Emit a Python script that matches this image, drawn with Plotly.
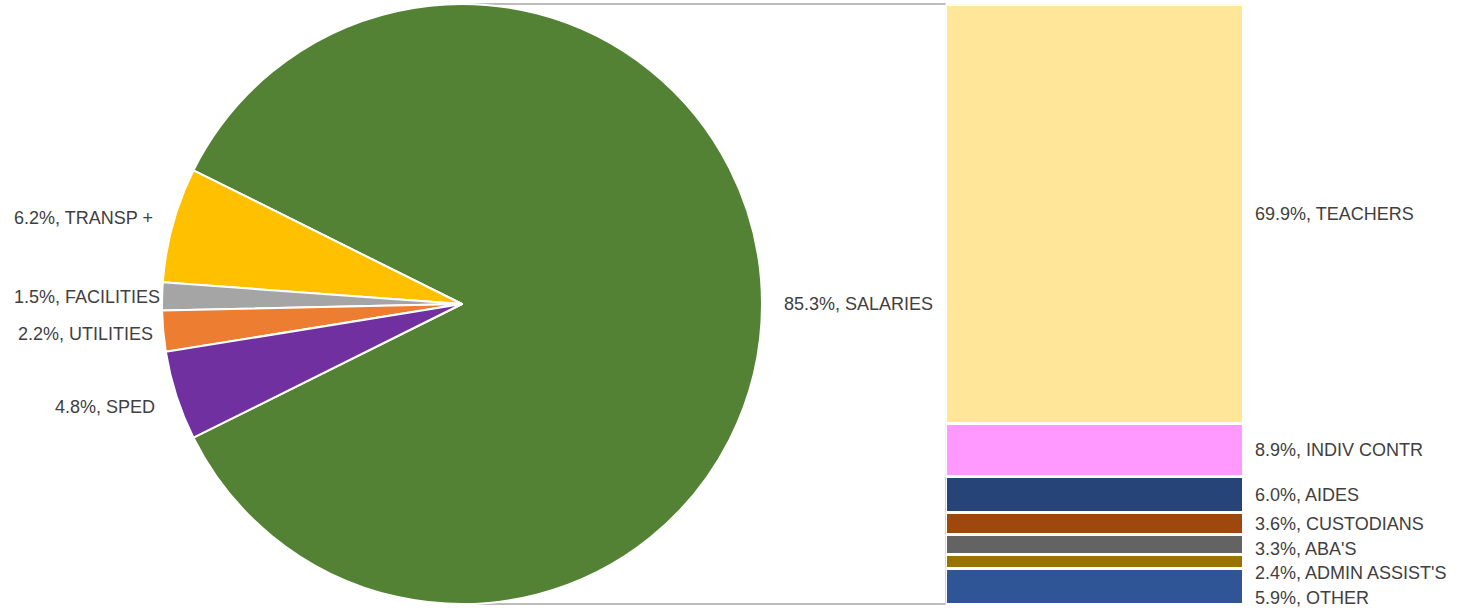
import math
import plotly.graph_objects as go

# ---- data ----
pie_labels = ["SALARIES", "TRANSP +", "FACILITIES", "UTILITIES", "SPED"]
pie_values = [85.3, 6.2, 1.5, 2.2, 4.8]
pie_colors = ["#548235", "#FFC000", "#A5A5A5", "#ED7D31", "#7030A0"]

bar_labels = ["TEACHERS", "INDIV CONTR", "AIDES", "CUSTODIANS", "ABA'S", "ADMIN ASSIST'S", "OTHER"]
bar_values = [69.9, 8.9, 6.0, 3.6, 3.3, 2.4, 5.9]
bar_colors = ["#FFE699", "#FF99FF", "#264478", "#9E480E", "#636363", "#997300", "#2F5597"]

# ---- layout geometry (pixels) ----
W, H = 1461, 612
CX, CY, R = 462, 304, 300
BAR_L, BAR_R, BAR_T, BAR_B = 945.5, 1243.5, 4.5, 604
TXT = "#404040"
FONT = dict(family="Liberation Sans, Arial, sans-serif", size=18, color=TXT)

def px(x):
    return x / W

def py(y):
    return 1 - y / H

fig = go.Figure()

total = sum(pie_values)
frac0 = pie_values[0] / total
# first slice (SALARIES) centred on the right (3 o'clock)
fig.add_trace(go.Pie(
    labels=pie_labels, values=pie_values, sort=False,
    direction="counterclockwise", rotation=90 - frac0 * 180,
    marker=dict(colors=pie_colors, line=dict(color="white", width=2)),
    textinfo="none", showlegend=False,
    domain=dict(x=[px(CX - R), px(CX + R)], y=[py(CY + R), py(CY - R)]),
))

# stacked bar (bottom first)
for lab, val, col in reversed(list(zip(bar_labels, bar_values, bar_colors))):
    fig.add_trace(go.Bar(
        x=[""], y=[val], name=lab, marker=dict(color=col, line=dict(color="white", width=3)),
        xaxis="x2", yaxis="y2", showlegend=False,
    ))

annotations = []
# pie labels: placed around mid angles of slices
pie_offsets = {  # (radial gap, extra dy px)
    "SALARIES": (20, 0), "TRANSP +": (18, -2), "FACILITIES": (0, 1),
    "UTILITIES": (8, 2), "SPED": (20, 5),
}
start = -frac0 * 180
acc = 0
for lab, val in zip(pie_labels, pie_values):
    a0 = start + acc / total * 360
    acc += val
    a1 = start + acc / total * 360
    mid = math.radians((a0 + a1) / 2)
    gap, dy = pie_offsets[lab]
    x = CX + (R + gap) * math.cos(mid)
    y = CY - (R + gap) * math.sin(mid) + dy
    annotations.append(dict(
        x=px(x), y=py(y), xref="paper", yref="paper", showarrow=False,
        text=f"{val:.1f}%, {lab}", font=FONT,
        xanchor="left" if math.cos(mid) > 0 else "right", yanchor="middle",
    ))

# bar labels: segment centres, pushed down to avoid overlap
centres = []
top = sum(bar_values)
for v in bar_values:
    centres.append(top - v / 2)
    top -= v
min_gap = 4.15
pos = []
for c in centres:
    if pos and pos[-1] - c < min_gap:
        c = pos[-1] - min_gap
    pos.append(c)
for lab, val, y in zip(bar_labels, bar_values, pos):
    annotations.append(dict(
        x=px(1253), y=y, xref="paper", yref="y2", showarrow=False,
        text=f"{val:.1f}%, {lab}", font=FONT, xanchor="left", yanchor="middle",
    ))

shapes = [
    dict(type="line", xref="paper", yref="paper", x0=px(CX), x1=px(BAR_L),
         y0=py(CY - R), y1=py(CY - R), line=dict(color="#A6A6A6", width=1.5), layer="below"),
    dict(type="line", xref="paper", yref="paper", x0=px(CX), x1=px(BAR_L),
         y0=py(CY + R), y1=py(CY + R), line=dict(color="#A6A6A6", width=1.5), layer="below"),
]

fig.update_layout(
    width=W, height=H, margin=dict(l=0, r=0, t=0, b=0),
    paper_bgcolor="white", plot_bgcolor="rgba(0,0,0,0)",
    barmode="stack", bargap=0,
    xaxis2=dict(domain=[px(BAR_L), px(BAR_R)], visible=False, anchor="y2"),
    yaxis2=dict(domain=[py(BAR_B), py(BAR_T)], range=[0, 100], visible=False, anchor="x2"),
    xaxis=dict(visible=False), yaxis=dict(visible=False),
    annotations=annotations, shapes=shapes,
    font=FONT,
)

fig.write_html("out.html")
